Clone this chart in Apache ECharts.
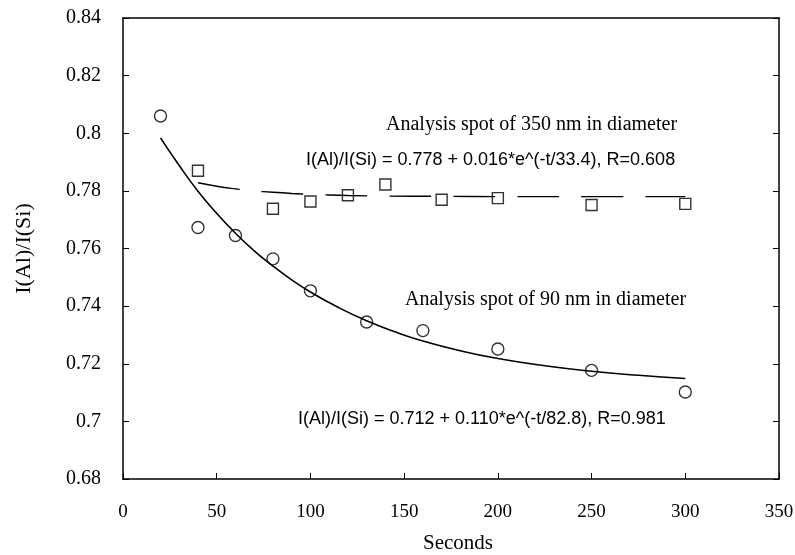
<!DOCTYPE html>
<html>
<head>
<meta charset="utf-8">
<script src="https://cdn.jsdelivr.net/npm/echarts@6/dist/echarts.min.js"></script>
<style>html,body{margin:0;padding:0;background:#fff}#c{width:795px;height:555px}</style>
</head>
<body>
<div id="c"></div>
<script>
// Measured points, 90 nm spot (circles)
const x90 = [20, 40, 60, 80, 100, 130, 160, 200, 250, 300];
const y90 = [0.806, 0.7673, 0.7645, 0.7564, 0.7453, 0.7345, 0.7315, 0.7251, 0.7177, 0.7102];
// Measured points, 350 nm spot (squares)
const x350 = [40, 80, 100, 120, 140, 170, 200, 250, 300];
const y350 = [0.787, 0.7738, 0.7763, 0.7785, 0.7822, 0.7769, 0.7775, 0.7751, 0.7755];
// Fitted curve, 90 nm (solid)
const fit90X = [20, 30, 40, 50, 60, 70, 80, 90, 100, 115, 130, 145, 160, 180, 200, 225, 250, 275, 300];
const fit90Y = [0.7984, 0.7888, 0.7799, 0.7722, 0.7653, 0.7592, 0.7539, 0.7491, 0.7449, 0.7395, 0.7349, 0.7311, 0.7279, 0.7245, 0.7218, 0.7193, 0.7174, 0.7160, 0.7149];
// Fitted curve, 350 nm (dashed)
const fit350X = [40, 50, 60, 70, 80, 90, 100, 120, 140, 170, 200, 250, 300];
const fit350Y = [0.7828, 0.7816, 0.7807, 0.7800, 0.7795, 0.7791, 0.7788, 0.7784, 0.7782, 0.7781, 0.7780, 0.7780, 0.7780];
// Texts
const xName = 'Seconds';
const yName = 'I(Al)/I(Si)';
const note350 = 'Analysis spot of 350 nm in diameter';
const eq350 = 'I(Al)/I(Si) = 0.778 + 0.016*e^(-t/33.4), R=0.608';
const note90 = 'Analysis spot of 90 nm in diameter';
const eq90 = 'I(Al)/I(Si) = 0.712 + 0.110*e^(-t/82.8), R=0.981';

const zip = (a, b) => a.map((v, i) => [v, b[i]]);
const serif = '"Liberation Serif", "Times New Roman", serif';
const sans = '"Liberation Sans", Arial, sans-serif';
const axisLine = { show: true, onZero: false, lineStyle: { color: '#000', width: 1.5 } };

const chart = echarts.init(document.getElementById('c'));
chart.setOption({
  animation: false,
  backgroundColor: '#fff',
  grid: { left: 123, right: 16, top: 18, bottom: 76, containLabel: false, outerBoundsMode: 'none' },
  xAxis: [
    { type: 'value', min: 0, max: 350, interval: 50, position: 'bottom',
      axisLine, axisTick: { show: true, inside: true, length: 6, lineStyle: { color: '#000', width: 1 } },
      splitLine: { show: false },
      axisLabel: { margin: 24, color: '#000', fontFamily: serif, fontSize: 19 },
      name: xName, nameLocation: 'middle', nameGap: 54,
      nameTextStyle: { color: '#000', fontFamily: serif, fontSize: 21, padding: [0, 0, 0, 14] } },
    { type: 'value', min: 0, max: 350, interval: 50, position: 'top',
      axisLine, axisTick: { show: false }, axisLabel: { show: false }, splitLine: { show: false } }
  ],
  yAxis: [
    { type: 'value', min: 0.68, max: 0.84, interval: 0.02, position: 'left',
      axisLine, axisTick: { show: true, inside: true, length: 6, lineStyle: { color: '#000', width: 1 } },
      splitLine: { show: false },
      axisLabel: { margin: 22, color: '#000', fontFamily: serif, fontSize: 20 },
      name: yName, nameLocation: 'middle', nameGap: 88, nameRotate: 90,
      nameTextStyle: { color: '#000', fontFamily: serif, fontSize: 22 } },
    { type: 'value', min: 0.68, max: 0.84, interval: 0.02, position: 'right',
      axisLine, axisTick: { show: true, inside: true, length: 6, lineStyle: { color: '#000', width: 1 } },
      axisLabel: { show: false }, splitLine: { show: false } }
  ],
  series: [
    { type: 'line', data: zip(fit90X, fit90Y), smooth: true, showSymbol: false,
      lineStyle: { color: '#000', width: 1.6 } },
    { type: 'line', data: zip(fit350X, fit350Y), smooth: true, showSymbol: false,
      lineStyle: { color: '#000', width: 1.4, type: [42, 22] } },
    { type: 'scatter', data: zip(x90, y90), symbol: 'circle', symbolSize: 12,
      itemStyle: { color: 'transparent', borderColor: '#000', borderWidth: 1.4 } },
    { type: 'scatter', data: zip(x350, y350), symbol: 'rect', symbolSize: 11,
      itemStyle: { color: 'transparent', borderColor: '#000', borderWidth: 1.4 } }
  ],
  graphic: [
    { type: 'text', x: 386, y: 125, style: { text: note350, font: '20px ' + serif, fill: '#000', textVerticalAlign: 'middle' } },
    { type: 'text', x: 306, y: 160, style: { text: eq350, font: '18px ' + sans, fill: '#000', textVerticalAlign: 'middle' } },
    { type: 'text', x: 405, y: 300, style: { text: note90, font: '20px ' + serif, fill: '#000', textVerticalAlign: 'middle' } },
    { type: 'text', x: 298, y: 419, style: { text: eq90, font: '18px ' + sans, fill: '#000', textVerticalAlign: 'middle' } }
  ]
});
</script>
</body>
</html>
